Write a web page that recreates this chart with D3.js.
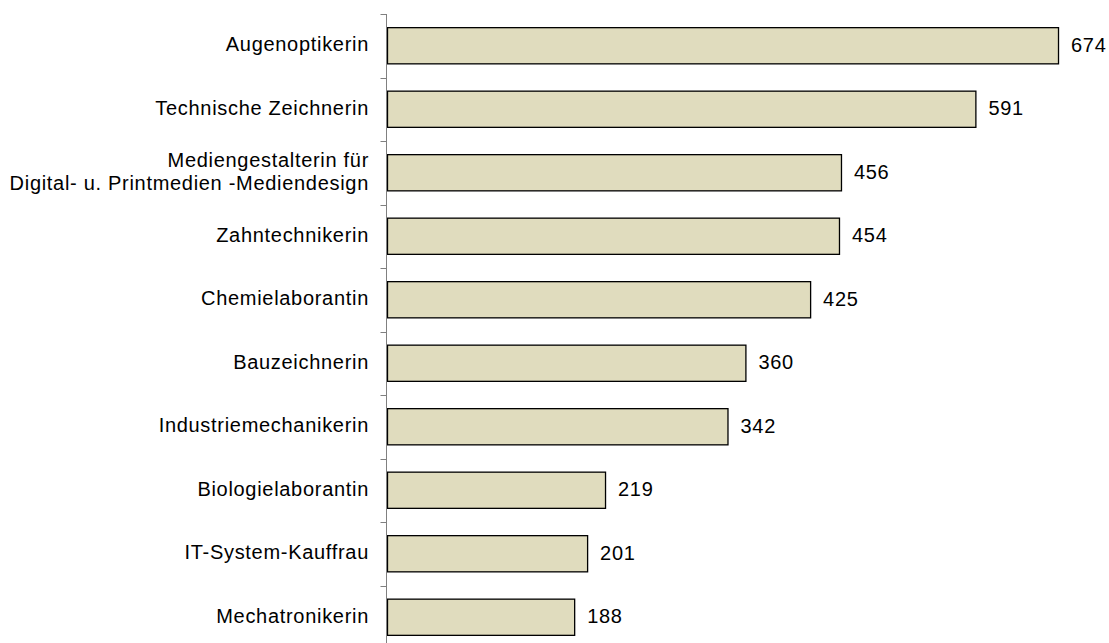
<!DOCTYPE html>
<html>
<head>
<meta charset="utf-8">
<script src="https://cdn.jsdelivr.net/npm/d3@7"></script>
<style>
  html, body { margin: 0; padding: 0; background: #fff; }
  svg { display: block; font-family: "Liberation Sans", Arial, sans-serif; }
</style>
</head>
<body>
<script>
let categories = [
  ['Augenoptikerin'],
  ['Technische Zeichnerin'],
  ['Mediengestalterin für', 'Digital- u. Printmedien -Mediendesign'],
  ['Zahntechnikerin'],
  ['Chemielaborantin'],
  ['Bauzeichnerin'],
  ['Industriemechanikerin'],
  ['Biologielaborantin'],
  ['IT-System-Kauffrau'],
  ['Mechatronikerin']
];
let values = [674, 591, 456, 454, 425, 360, 342, 219, 201, 188];

let width = 1109;
let height = 643;

let data = values.map(function(v, i) { return {id: i, label: categories[i], value: v}; });

let y = d3.scaleBand()
  .domain(d3.range(data.length))
  .range([14, 649])
  .paddingInner(0.43)
  .paddingOuter(0.215);

let x = d3.scaleLinear()
  .domain([0, 700])
  .range([387.5, 1084.4]);

let svg = d3.select('body').append('svg')
  .attr('width', width)
  .attr('height', height);

// bars
svg.append('g')
    .attr('class', 'bars')
  .selectAll('rect')
  .data(data)
  .enter().append('rect')
    .attr('x', x(0))
    .attr('y', function(d) { return y(d.id); })
    .attr('width', function(d) { return x(d.value) - x(0); })
    .attr('height', y.bandwidth())
    .attr('fill', '#e0dcbe')
    .attr('stroke', '#000')
    .attr('stroke-width', 1.3);

// axis line + ticks at the band edges
let axis = svg.append('g').attr('class', 'axis');
let step = y.step();
axis.append('line')
  .attr('x1', 386.5).attr('x2', 386.5)
  .attr('y1', 14).attr('y2', 649)
  .attr('stroke', '#808080')
  .attr('stroke-width', 1);

axis.selectAll('.tick')
  .data(d3.range(data.length + 1))
  .enter().append('line')
    .attr('class', 'tick')
    .attr('x1', 380.5).attr('x2', 386.5)
    .attr('y1', function(i) { return Math.round(14 + i * step) + 0.5; })
    .attr('y2', function(i) { return Math.round(14 + i * step) + 0.5; })
    .attr('stroke', '#808080')
    .attr('stroke-width', 1);

// category labels
let labels = svg.append('g')
    .attr('class', 'labels')
  .selectAll('text')
  .data(data)
  .enter().append('text')
    .attr('text-anchor', 'end')
    .attr('font-size', '20px')
    .attr('letter-spacing', '0.7px')
    .attr('fill', '#000');

labels.each(function(d) {
  let t = d3.select(this);
  let cy = y(d.id) + y.bandwidth() / 2;
  let n = d.label.length;
  d.label.forEach(function(line, k) {
    t.append('tspan')
      .attr('x', 369)
      .attr('y', cy + 5.5 + (k - (n - 1) / 2) * 22.5)
      .text(line);
  });
});

// value labels
svg.append('g')
    .attr('class', 'values')
  .selectAll('text')
  .data(data)
  .enter().append('text')
    .attr('x', function(d) { return x(d.value) + 12.5; })
    .attr('y', function(d) { return y(d.id) + y.bandwidth() / 2 + 6; })
    .attr('font-size', '20px')
    .attr('letter-spacing', '0.7px')
    .attr('fill', '#000')
    .text(function(d) { return d.value; });
</script>
</body>
</html>
